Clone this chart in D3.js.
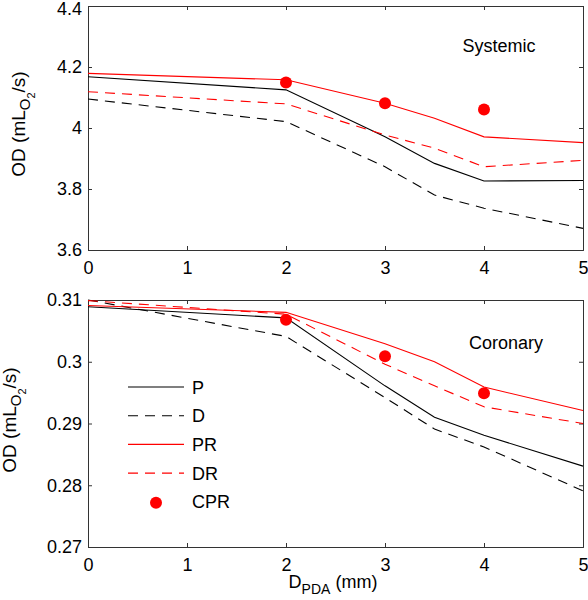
<!DOCTYPE html>
<html><head><meta charset="utf-8">
<script src="https://cdn.jsdelivr.net/npm/d3@7"></script>
<style>body{margin:0;background:#fff}svg{display:block}text{font-family:"Liberation Sans",Arial,sans-serif;fill:#000}</style>
</head><body>
<svg id="c" width="588" height="600"></svg>
<script>
const xs = [0, 2, 3, 3.5, 4, 5];
const xCPR = [2, 3, 4];
// Systemic panel
const sysP  = [4.168, 4.125, 3.971, 3.884, 3.826, 3.828];
const sysD  = [4.095, 4.021, 3.873, 3.780, 3.737, 3.671];
const sysPR = [4.179, 4.158, 4.081, 4.032, 3.971, 3.952];
const sysDR = [4.119, 4.079, 3.977, 3.934, 3.873, 3.894];
const sysCPR = [4.149, 4.081, 4.061];
// Coronary panel
const corP  = [0.3089, 0.3071, 0.2961, 0.2910, 0.2881, 0.2831];
const corD  = [0.3100, 0.3041, 0.2942, 0.2891, 0.2862, 0.2791];
const corPR = [0.3091, 0.3080, 0.3029, 0.3000, 0.2959, 0.2921];
const corDR = [0.3099, 0.3077, 0.2996, 0.2961, 0.2927, 0.2900];
const corCPR = [0.3068, 0.3009, 0.2949];
const xTicks = [0, 1, 2, 3, 4, 5];
const sysTicks = [3.6, 3.8, 4.0, 4.2, 4.4];
const corTicks = [0.27, 0.28, 0.29, 0.30, 0.31];
const legendNames = ["P", "D", "PR", "DR", "CPR"];

const svg = d3.select("#c");
const L = 88, R = 583;
const FS = 18;
const x = d3.scaleLinear().domain([0, 5]).range([L, R]);

function panel(top, bottom, domain, ticks, fmt, series, cpr, title, titleX, titleY, labX, labY) {
  const y = d3.scaleLinear().domain(domain).range([bottom, top]);
  const g = svg.append("g");
  const tl = 4;
  g.append("g").attr("transform", `translate(0,${bottom})`)
    .call(d3.axisBottom(x).tickValues(xTicks).tickSize(-tl).tickPadding(11).tickFormat(d3.format("d")));
  g.append("g").attr("transform", `translate(0,${top})`)
    .call(d3.axisTop(x).tickValues(xTicks).tickSize(-tl).tickFormat(""));
  const ya = g.append("g").attr("transform", `translate(${L},0)`)
    .call(d3.axisLeft(y).tickValues(ticks).tickSize(-tl).tickPadding(6).tickFormat(fmt));
  g.append("g").attr("transform", `translate(${R},0)`)
    .call(d3.axisRight(y).tickValues(ticks).tickSize(-tl).tickFormat(""));
  g.selectAll(".domain").attr("stroke", "#333").attr("stroke-width", 1);
  g.selectAll(".tick line").attr("stroke", "#333");
  g.selectAll(".tick text").attr("font-size", FS).attr("fill", "#000")
    .style("font-family", '"Liberation Sans",Arial,sans-serif');
  // keep the top-most label inside the page
  ya.selectAll(".tick text").filter(d => y(d) < 9).attr("dy", "0.45em");
  const line = d3.line().x((d, i) => x(xs[i])).y(d => y(d));
  series.forEach(s => {
    g.append("path").datum(s.v).attr("d", line).attr("fill", "none")
      .attr("stroke", s.c).attr("stroke-width", 1.1)
      .attr("stroke-dasharray", s.dash ? "10,7" : null);
  });
  g.selectAll("circle.cpr").data(cpr).enter().append("circle")
    .attr("cx", (d, i) => x(xCPR[i])).attr("cy", d => y(d)).attr("r", 6).attr("fill", "#f00");
  g.append("text").attr("x", titleX).attr("y", titleY).attr("text-anchor", "middle")
    .attr("font-size", FS).text(title);
  const t = g.append("text").attr("transform", `translate(${labX},${labY}) rotate(-90)`)
    .attr("text-anchor", "middle").attr("font-size", 19);
  t.append("tspan").text("OD (mL");
  t.append("tspan").attr("font-size", 15).attr("dy", 5).text("O");
  t.append("tspan").attr("font-size", 11).attr("dy", 5).text("2");
  t.append("tspan").attr("dy", -10).text("/s)");
  return y;
}

const colors = {k: "#000", r: "#f00"};
panel(6, 250, [3.6, 4.4], sysTicks, d3.format(".1~f"), [
  {v: sysP, c: colors.k}, {v: sysD, c: colors.k, dash: true},
  {v: sysPR, c: colors.r}, {v: sysDR, c: colors.r, dash: true}
], sysCPR, "Systemic", 499, 52, 25, 124);
panel(300, 547, [0.27, 0.31], corTicks, d3.format(".2~f"), [
  {v: corP, c: colors.k}, {v: corD, c: colors.k, dash: true},
  {v: corPR, c: colors.r}, {v: corDR, c: colors.r, dash: true}
], corCPR, "Coronary", 506, 349, 16, 420);

// legend
const leg = svg.append("g");
const legStyle = [{c: "#000"}, {c: "#000", dash: true}, {c: "#f00"}, {c: "#f00", dash: true}, {c: "#f00", dot: true}];
legendNames.forEach((n, i) => {
  const yy = 387 + i * 28.7;
  const s = legStyle[i];
  if (s.dot) {
    leg.append("circle").attr("cx", 156).attr("cy", yy + 1).attr("r", 6).attr("fill", s.c);
  } else {
    leg.append("line").attr("x1", 128).attr("x2", 184).attr("y1", yy).attr("y2", yy)
      .attr("stroke", s.c).attr("stroke-width", 1.1).attr("stroke-dasharray", s.dash ? "10,7" : null);
  }
  leg.append("text").attr("x", 192).attr("y", yy + 6.5).attr("font-size", FS).text(n);
});

// x label
const xl = svg.append("text").attr("x", 333).attr("y", 588).attr("text-anchor", "middle").attr("font-size", FS);
xl.append("tspan").text("D");
xl.append("tspan").attr("font-size", 14).attr("dy", 6).text("PDA");
xl.append("tspan").attr("dy", -6).text(" (mm)");
</script>
</body></html>
